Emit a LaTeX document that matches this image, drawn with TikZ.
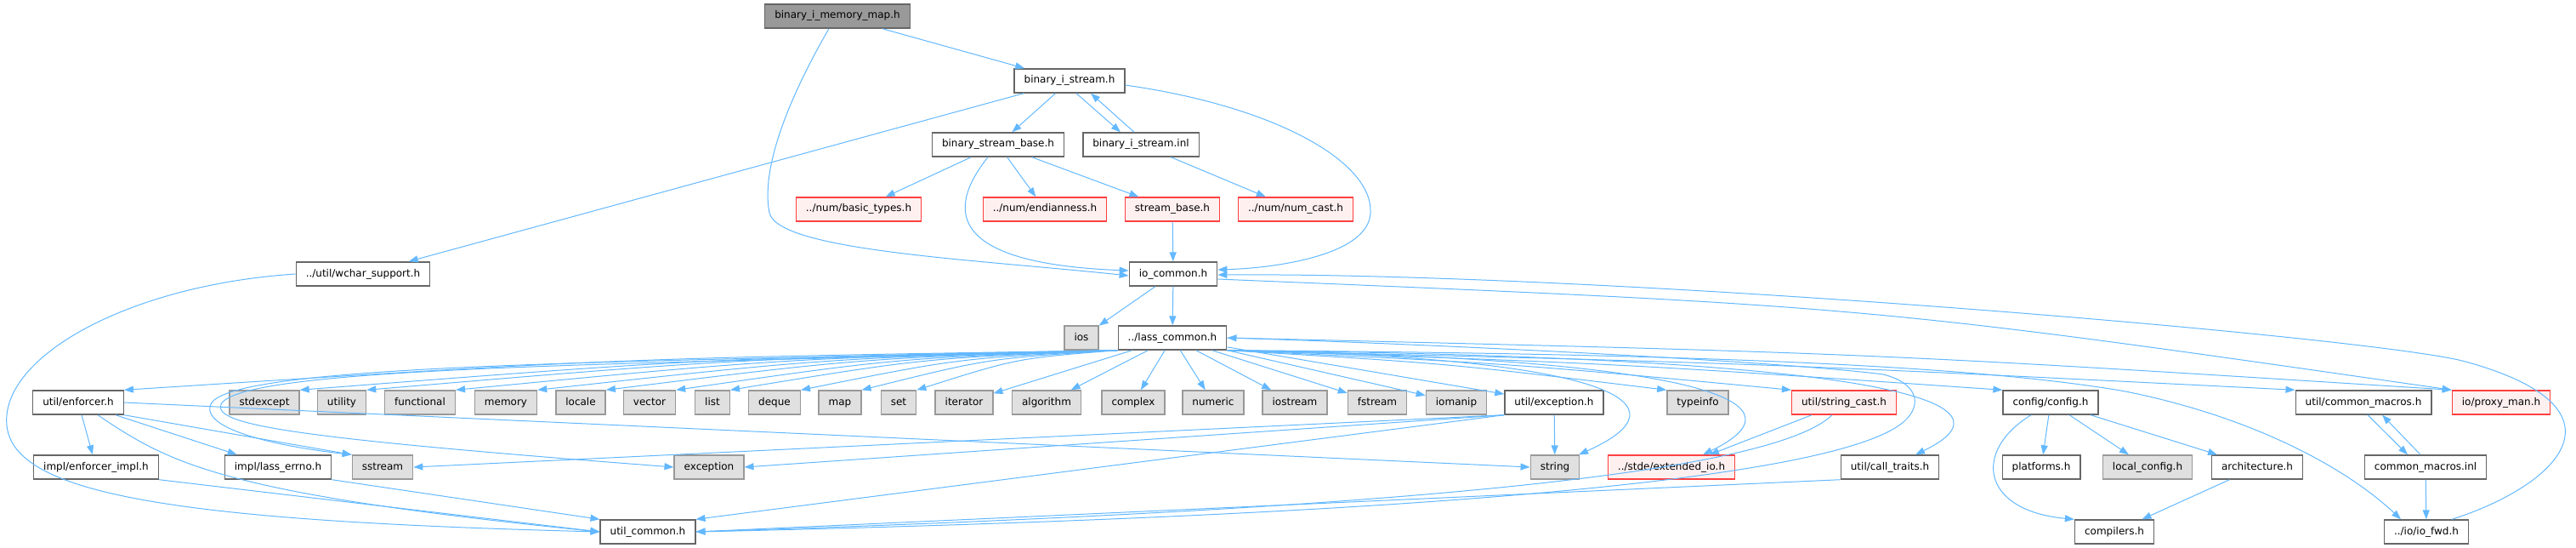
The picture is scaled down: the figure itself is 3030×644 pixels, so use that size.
\documentclass[tikz,border=0pt]{standalone}
\usepackage{fontspec}
\setmainfont{DejaVu Sans}
\usepackage{tikz}
\usetikzlibrary{arrows.meta, positioning, calc}
\definecolor{IncEdge}{RGB}{99, 184, 255}
\definecolor{NodeBorder}{RGB}{102, 102, 102}
\definecolor{SysFill}{RGB}{224, 224, 224}
\definecolor{SysBorder}{RGB}{153, 153, 153}
\definecolor{RootFill}{RGB}{153, 153, 153}
\definecolor{TruncFill}{RGB}{255, 240, 240}
\definecolor{TruncBorder}{RGB}{255, 64, 64}

\begin{document}
\begin{tikzpicture}[
        x=1pt, y=-1pt,
        box/.style={rectangle, minimum height=28pt, inner xsep=11.5pt, inner ysep=0pt,
            text height=9pt, text depth=3pt, line width=1.4pt,
            font=\fontsize{12}{14}\selectfont, text=black},
        fileh/.style={box, draw=NodeBorder, fill=white},
        sysh/.style={box, draw=SysBorder, fill=SysFill},
        trunc/.style={box, draw=TruncBorder, fill=TruncFill},
        rootf/.style={box, draw=NodeBorder, fill=RootFill},
        inc/.style={draw=IncEdge, line width=1pt, -{Triangle[length=11pt, width=8pt]}}
    ]

    \useasboundingbox (0,0) rectangle (3030,644);

    % headers
    \node[rootf] (memmap)     at (985,19)   {binary\_i\_memory\_map.h};
    \node[fileh] (bistream)   at (1258,95)  {binary\_i\_stream.h};
    \node[fileh] (bsbase)     at (1174,170) {binary\_stream\_base.h};
    \node[fileh] (bisinl)     at (1342,170) {binary\_i\_stream.inl};
    \node[trunc] (basictypes) at (1010,246) {../num/basic\_types.h};
    \node[trunc] (endian)     at (1229,246) {../num/endianness.h};
    \node[trunc] (streambase) at (1379,246) {stream\_base.h};
    \node[trunc] (numcast)    at (1524,246) {../num/num\_cast.h};
    \node[fileh] (wchar)      at (427,322)  {../util/wchar\_support.h};
    \node[fileh] (iocommon)   at (1380,322) {io\_common.h};
    \node[sysh]  (ios)        at (1272,397) {ios};
    \node[fileh] (lasscommon) at (1379,397) {../lass\_common.h};
    \node[fileh] (enforcer)   at (92,473)   {util/enforcer.h};
    \foreach \n/\x in {stdexcept/311, utility/402, functional/494, memory/595, locale/683,
        vector/764, list/838, deque/911, map/988, set/1057, iterator/1134, algorithm/1231,
        complex/1333, numeric/1427, iostream/1523, fstream/1620, iomanip/1713, typeinfo/1997}
        \node[sysh] (\n) at (\x,473) {\n};
    \node[fileh] (utilexc)    at (1828,473) {util/exception.h};
    \node[trunc] (strcast)    at (2169,473) {util/string\_cast.h};
    \node[fileh] (config)     at (2412,473) {config/config.h};
    \node[fileh] (cmacros)    at (2780,473) {util/common\_macros.h};
    \node[trunc] (proxyman)   at (2942,473) {io/proxy\_man.h};
    \node[fileh] (enfimpl)    at (113,549)  {impl/enforcer\_impl.h};
    \node[fileh] (errno)      at (327,549)  {impl/lass\_errno.h};
    \node[sysh]  (sstream)    at (450,549)  {sstream};
    \node[sysh]  (exception)  at (834,549)  {exception};
    \node[sysh]  (string)     at (1829,549) {string};
    \node[trunc] (extio)      at (1966,549) {../stde/extended\_io.h};
    \node[fileh] (calltraits) at (2223,549) {util/call\_traits.h};
    \node[fileh] (platforms)  at (2401,549) {platforms.h};
    \node[sysh]  (localcfg)   at (2526,549) {local\_config.h};
    \node[fileh] (arch)       at (2655,549) {architecture.h};
    \node[fileh] (cmacrosinl) at (2853,549) {common\_macros.inl};
    \node[fileh] (utilcommon) at (762,625)  {util\_common.h};
    \node[fileh] (compilers)  at (2487,625) {compilers.h};
    \node[fileh] (iofwd)      at (2854,625) {../io/io\_fwd.h};

    % top part
    \draw[inc] (memmap) -- (bistream);
    \draw[inc] ([xshift=-10pt]memmap.south) .. controls (925,120) and (895,200) .. (905,250)
        .. controls (915,295) and (1150,305) .. ([yshift=-2pt]iocommon.west);
    \draw[inc] (bistream) -- (bsbase);
    \draw[inc] ([xshift=8pt]bistream.south) -- ([xshift=-24pt]bisinl.north);
    \draw[inc] ([xshift=-8pt]bisinl.north) -- ([xshift=25pt]bistream.south);
    \draw[inc] (bistream) -- (wchar);
    \draw[inc] ([yshift=-5pt]bistream.east) .. controls (1500,125) and (1615,190) .. (1612,250)
        .. controls (1610,300) and (1500,315) .. ([yshift=5pt]iocommon.east);
    \draw[inc] (bsbase) -- (basictypes);
    \draw[inc] (bsbase) -- (endian);
    \draw[inc] (bsbase) -- (streambase);
    \draw[inc] ([xshift=-12pt]bsbase.south) .. controls (1110,250) and (1120,310) .. ([yshift=4pt]iocommon.west);
    \draw[inc] (bisinl) -- (numcast);
    \draw[inc] (streambase) -- (iocommon);
    \draw[inc] (iocommon) -- (ios);
    \draw[inc] (iocommon) -- (lasscommon);
    \draw[inc] ([yshift=-6pt]iocommon.east) .. controls (2200,360) .. (proxyman.north west);
    \draw[inc] ([xshift=30pt]iofwd.north) .. controls (3010,570) and (3100,480) .. (2900,425)
        .. controls (2800,397) and (1900,320) .. ([yshift=-1pt]iocommon.east);

    % lass_common fan
    \foreach \t in {enforcer, stdexcept, utility, functional, memory, locale, vector, list, deque, map, set}
        \draw[inc] (lasscommon.south west)
            .. controls ($(lasscommon.south west)!0.5!(\t.north east)+(0,-14)$) .. (\t.north east);
    \foreach \t in {iterator, algorithm, complex, numeric, iostream, fstream, iomanip, utilexc}
        \draw[inc] (lasscommon) -- (\t);
    \foreach \t in {typeinfo, strcast, config, cmacros}
        \draw[inc] (lasscommon.south east)
            .. controls ($(lasscommon.south east)!0.5!(\t.north west)+(0,-8)$) .. (\t.north west);
    \draw[inc] (lasscommon.east) .. controls (2200,415) .. (proxyman.north west);
    \draw[inc] (lasscommon.south west) .. controls (800,425) and (270,425) .. (248,475)
        .. controls (235,505) and (330,525) .. (sstream.north west);
    \draw[inc] (lasscommon.south west) .. controls (800,428) and (285,428) .. (260,475)
        .. controls (250,500) and (350,515) .. (exception.west);
    \draw[inc] (lasscommon.south east) .. controls (1900,420) and (1990,475) .. ([xshift=28pt]string.north);
    \draw[inc] (lasscommon.south east) .. controls (2040,422) and (2120,478) .. ([xshift=37pt]extio.north);
    \draw[inc] (lasscommon.south east) .. controls (2270,420) and (2370,478) .. ([xshift=30pt]calltraits.north);
    \draw[inc] (lasscommon.south east) .. controls (1900,415) and (2300,425) .. (2500,460)
        .. controls (2650,490) and (2760,550) .. ([xshift=-30pt]iofwd.north);
    \draw[inc] (utilcommon.east) .. controls (1500,610) and (2150,575) .. (2240,495)
        .. controls (2262,475) and (2255,450) .. (2215,440)
        .. controls (2100,425) and (1700,405) .. (lasscommon.east);

    % lower rows
    \draw[inc] (enforcer) -- (enfimpl);
    \draw[inc] ([xshift=-10pt]enforcer.south east) -- ([xshift=15pt]errno.north west);
    \draw[inc] (enforcer.south east) -- (sstream.north west);
    \draw[inc] (enforcer.east) -- (string.west);
    \draw[inc] ([xshift=23pt]enforcer.south) .. controls (200,545) and (260,580) .. (utilcommon.west);
    \draw[inc] (enfimpl.south east) -- (utilcommon.west);
    \draw[inc] (errno.south east) -- (utilcommon.north west);
    \draw[inc] (wchar.west) .. controls (150,335) and (0,420) .. (8,500)
        .. controls (16,580) and (200,612) .. (utilcommon.west);
    \draw[inc] (utilexc) -- (string);
    \draw[inc] (utilexc.south west) -- (exception.east);
    \draw[inc] (utilexc.south west) -- (sstream.east);
    \draw[inc] (utilexc.south west) -- (utilcommon.north east);
    \draw[inc] (strcast) -- ([xshift=45pt]extio.north);
    \draw[inc] ([xshift=-14pt]strcast.south) .. controls (2080,560) and (1600,600) .. (utilcommon.east);
    \draw[inc] (calltraits.south west) -- (utilcommon.east);

    % config
    \draw[inc] (config) -- (platforms);
    \draw[inc] (config) -- (localcfg);
    \draw[inc] (config) -- (arch);
    \draw[inc] ([xshift=-23pt]config.south) .. controls (2320,530) and (2330,600) .. (compilers.north west);
    \draw[inc] (arch) -- (compilers);
    \draw[inc] ([xshift=5pt]cmacros.south) -- ([xshift=-21pt]cmacrosinl.north);
    \draw[inc] ([xshift=-6pt]cmacrosinl.north) -- ([xshift=22pt]cmacros.south);
    \draw[inc] (cmacrosinl) -- (iofwd);

\end{tikzpicture}
\end{document}
